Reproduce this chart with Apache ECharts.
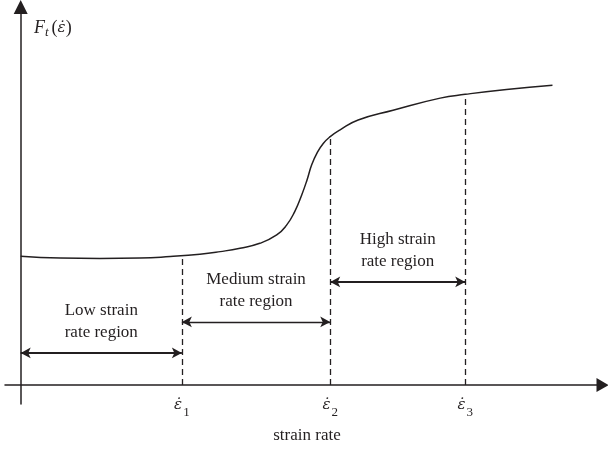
<!DOCTYPE html>
<html>
<head>
<meta charset="utf-8">
<script src="https://cdn.jsdelivr.net/npm/echarts@6/dist/echarts.min.js"></script>
<style>
  html, body { margin: 0; padding: 0; background: #fff; }
  #chart { width: 608px; height: 449px; }
</style>
</head>
<body>
<div id="chart"></div>
<script>
// Schematic strength response F_t versus strain rate (normalised units)
const strainRate = [0, 6.8, 13.6, 20.5, 25.7, 30.8, 34.3, 37.7, 41.1, 44.0, 45.7, 47.1, 48.3, 49.2, 50.0, 50.9, 52.0, 53.2, 54.9, 58.0, 64.0, 72.1, 76.4, 83.5, 91.4];
const response   = [34.1, 33.6, 33.5, 33.6, 34.0, 34.6, 35.3, 36.2, 37.5, 39.7, 42.3, 45.9, 50.3, 54.2, 58.2, 61.3, 63.9, 65.7, 67.5, 70.1, 72.7, 75.9, 76.9, 78.2, 79.3];

// Transition strain rates and the height where each guide meets the curve
const thresholds = [27.7, 53.2, 76.4];
const thresholdSubs = ['1', '2', '3'];
const guideTops = [33.8, 65.7, 76.9];

// Regime spans (start, end), arrow heights and captions
const regionStart = [0, 27.7, 53.2];
const regionEnd = [27.7, 53.2, 76.4];
const regionLevel = [8.5, 16.7, 27.3];
const regionNames = ['Low strain\nrate region', 'Medium strain\nrate region', 'High strain\nrate region'];

const xAxisTitle = 'strain rate';

const ink = '#231f20';
const serif = '"Liberation Serif", "DejaVu Serif", serif';
const greek = '"DejaVu Serif", serif';

const chart = echarts.init(document.getElementById('chart'), null, { renderer: 'canvas' });

const guideLines = thresholds.map((x, i) => [
  { coord: [x, 0] },
  { coord: [x, guideTops[i]] }
]);

const regionArrows = regionNames.map((name, i) => [
  { coord: [regionStart[i], regionLevel[i]], name: name,
    lineStyle: { width: i === 1 ? 1.4 : 2 } },
  { coord: [regionEnd[i], regionLevel[i]] }
]);

chart.setOption({
  animation: false,
  backgroundColor: '#fff',
  title: [
    {
      text: '{f|F}{s|t}{p|(}{e|ε\u0307}{p|)}',
      left: 29,
      top: 13,
      textStyle: {
        fontWeight: 'normal',
        rich: {
          f: { fontFamily: serif, fontStyle: 'italic', fontWeight: 'normal', fontSize: 18, color: ink },
          s: { fontFamily: serif, fontStyle: 'italic', fontWeight: 'normal', fontSize: 13, color: ink, verticalAlign: 'bottom', padding: [8, 3, 0, 0] },
          p: { fontFamily: serif, fontWeight: 'normal', fontSize: 18, color: ink },
          e: { fontFamily: greek, fontStyle: 'italic', fontWeight: 'normal', fontSize: 15, color: ink }
        }
      }
    },
    {
      text: xAxisTitle,
      left: 307,
      top: 427,
      textAlign: 'center',
      padding: 0,
      textStyle: { fontFamily: serif, fontSize: 17, fontWeight: 'normal', color: ink }
    }
  ],
  grid: { left: 5, top: 7, width: 597.5, height: 397, outerBoundsMode: 'none', containLabel: false },
  xAxis: {
    type: 'value',
    min: -2.7,
    max: 100,
    splitLine: { show: false },
    axisTick: { show: false },
    axisLine: {
      onZero: true,
      symbol: ['none', 'triangle'],
      symbolSize: [14, 12],
      lineStyle: { color: ink, width: 1.5 }
    },
    axisLabel: {
      customValues: thresholds,
      margin: -12,
      hideOverlap: false,
      formatter: function (v) {
        const i = thresholds.indexOf(v);
        return '{e|ε\u0307}{s|' + thresholdSubs[i] + '}';
      },
      rich: {
        e: { fontFamily: greek, fontStyle: 'italic', fontSize: 15, color: ink },
        s: { fontFamily: serif, fontSize: 13, color: ink, verticalAlign: 'bottom', padding: [14, 0, 0, 1] }
      }
    }
  },
  yAxis: {
    type: 'value',
    min: -5,
    max: 100,
    splitLine: { show: false },
    axisTick: { show: false },
    axisLabel: { show: false },
    axisLine: {
      onZero: true,
      symbol: ['none', 'triangle'],
      symbolSize: [14, 14],
      lineStyle: { color: ink, width: 1.5 }
    }
  },
  series: [
    {
      type: 'line',
      data: strainRate.map((x, i) => [x, response[i]]),
      smooth: 0.5,
      showSymbol: false,
      lineStyle: { color: ink, width: 1.5 },
      silent: true
    },
    {
      type: 'line',
      data: [],
      silent: true,
      markLine: {
        silent: true,
        symbol: ['none', 'none'],
        label: { show: false },
        lineStyle: { color: ink, width: 1.3, type: [6, 4] },
        emphasis: { disabled: true },
        data: guideLines
      }
    },
    {
      type: 'line',
      data: [],
      silent: true,
      markLine: {
        silent: true,
        symbol: ['arrow', 'arrow'],
        symbolSize: [8, 10],
        lineStyle: { color: ink, type: 'solid' },
        emphasis: { disabled: true },
        label: {
          show: true,
          position: 'middle',
          distance: 9,
          formatter: '{b}',
          fontFamily: serif,
          fontSize: 17,
          lineHeight: 22,
          color: ink
        },
        data: regionArrows
      }
    }
  ]
});
</script>
</body>
</html>
